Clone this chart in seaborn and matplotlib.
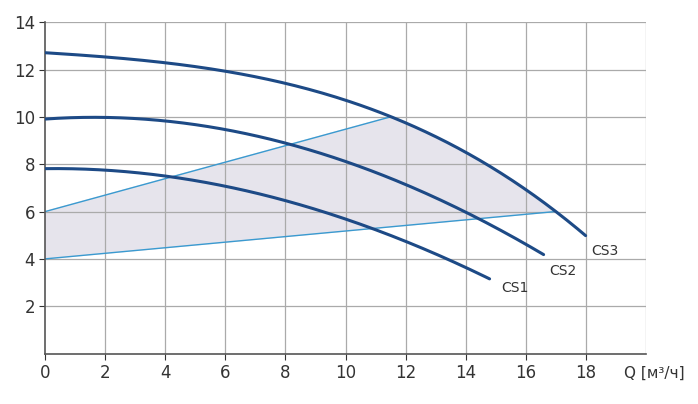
import numpy as np
import matplotlib.pyplot as plt
import seaborn as sns

# pump curves
cs1_q = [0, 2, 4, 6, 8, 10, 12, 14, 14.8]
cs1_h = [7.8, 7.75, 7.55, 7.05, 6.4, 5.7, 4.75, 3.7, 3.1]
cs2_q = [0, 2, 4, 6, 8, 10, 12, 14, 16, 16.6]
cs2_h = [9.95, 9.9, 9.8, 9.55, 8.9, 8.1, 7.1, 6.0, 4.6, 4.2]
cs3_q = [0, 2, 4, 6, 8, 10, 12, 14, 16, 17, 18]
cs3_h = [12.7, 12.55, 12.3, 11.9, 11.4, 10.7, 9.8, 8.5, 6.9, 6.0, 5.0]
labels = ["CS1", "CS2", "CS3"]
label_pos = [(15.2, 2.75), (16.8, 3.5), (18.2, 4.35)]

# working zone boundary
upper_q = [0, 11.5]
upper_h = [6, 10]
lower_q = [0, 17]
lower_h = [4, 6]

sns.set_style("white")
fig, ax = plt.subplots(figsize=(6.98, 4.04), dpi=100)
fig.subplots_adjust(left=0.065, right=0.925, top=0.945, bottom=0.125)

def smooth(q, h, n=200):
    xs = np.linspace(q[0], q[-1], n)
    c = np.polyfit(q, h, 3)
    return xs, np.polyval(c, xs)

# shaded zone: upper line, then CS3 down to (17,6), then lower line back
seg_q = np.linspace(11.5, 17, 60)
c3 = np.polyfit(cs3_q, cs3_h, 3)
poly_q = [0, 0, 11.5] + list(seg_q) + [17, 0]
poly_h = [4, 6, 10] + list(np.polyval(c3, seg_q)) + [6, 4]
ax.fill(poly_q, poly_h, color="#e6e4ec", zorder=1)
ax.plot(upper_q, upper_h, color="#3a9ad0", lw=1, zorder=2.5)
ax.plot(lower_q, lower_h, color="#3a9ad0", lw=1, zorder=2.5)

for q, h, lab, (tx, ty) in zip([cs1_q, cs2_q, cs3_q], [cs1_h, cs2_h, cs3_h], labels, label_pos):
    xs, ys = smooth(q, h)
    sns.lineplot(x=xs, y=ys, ax=ax, color="#1d4a86", lw=2.2, zorder=3)
    ax.text(tx, ty, lab, fontsize=10, color="#333333", ha="left", va="center")

ax.set_xlim(0, 20)
ax.set_ylim(0, 14)
ax.set_xticks(np.arange(0, 19, 2))
ax.set_yticks(np.arange(2, 15, 2))
ax.tick_params(labelsize=12, colors="#333333", length=4, direction="out", left=True, bottom=True)
for v in np.arange(2, 21, 2):
    ax.axvline(v, color="#aaaaaa", lw=0.9, zorder=2)
for v in np.arange(2, 15, 2):
    ax.axhline(v, color="#aaaaaa", lw=0.9, zorder=2)
for s in ["top", "right"]:
    ax.spines[s].set_visible(False)
for s in ["left", "bottom"]:
    ax.spines[s].set_color("#555555")
    ax.spines[s].set_linewidth(1.2)
ax.text(20.3, -0.85, "Q [м³/ч]", fontsize=11, color="#333333", ha="center", va="center", clip_on=False)

fig.savefig("out.png", dpi=100)
